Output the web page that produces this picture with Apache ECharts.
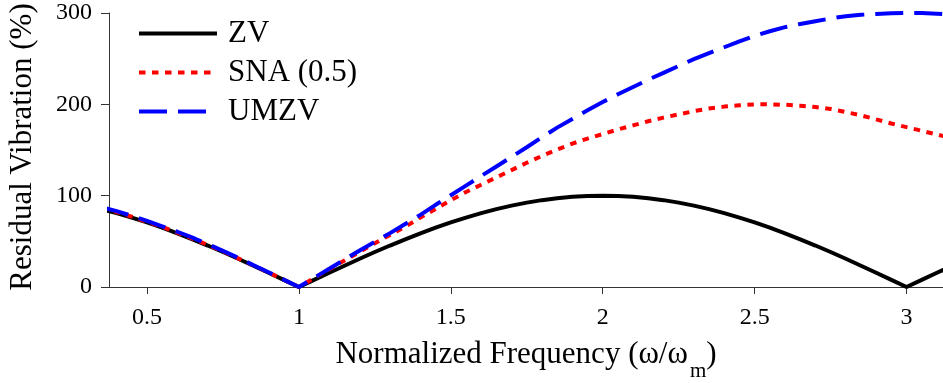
<!DOCTYPE html>
<html>
<head>
<meta charset="utf-8">
<script src="https://cdn.jsdelivr.net/npm/echarts@6.0.0/dist/echarts.min.js"></script>
<style>
  html, body { margin: 0; padding: 0; background: #fff; }
  #root { width: 943px; height: 383px; }
</style>
</head>
<body>
<div id="root"></div>
<script>
// normalized frequency (w / wm)
const freq = [
  0.35, 0.40, 0.45, 0.50, 0.55, 0.60, 0.65, 0.70, 0.75, 0.80, 0.85, 0.90, 0.95, 1.00,
  1.05, 1.10, 1.15, 1.20, 1.25, 1.30, 1.35, 1.40, 1.45, 1.50, 1.55, 1.60, 1.65, 1.70,
  1.75, 1.80, 1.85, 1.90, 1.95, 2.00, 2.05, 2.10, 2.15, 2.20, 2.25, 2.30, 2.35, 2.40,
  2.45, 2.50, 2.55, 2.60, 2.65, 2.70, 2.75, 2.80, 2.85, 2.90, 2.95, 3.00, 3.05, 3.10, 3.15
];

// residual vibration (%)
const zv = [
  85.3, 80.9, 76.0, 70.7, 64.9, 58.8, 52.2, 45.4, 38.3, 30.9, 23.3, 15.6, 7.8, 0,
  7.8, 15.6, 23.3, 30.9, 38.3, 45.4, 52.2, 58.8, 64.9, 70.7, 76.0, 80.9, 85.3, 89.1,
  92.4, 95.1, 97.2, 98.8, 99.7, 100, 99.7, 98.8, 97.2, 95.1, 92.4, 89.1, 85.3, 80.9,
  76.0, 70.7, 64.9, 58.8, 52.2, 45.4, 38.3, 30.9, 23.3, 15.6, 7.8, 0, 7.8, 15.6, 23.3
];
const sna = [
  86.5, 82, 77, 71.5, 65.7, 59.6, 53, 46.2, 39, 31.4, 23.7, 15.9, 8, 0,
  9.8, 19.5, 29, 38.5, 48, 57, 66, 76, 85.5, 95, 104, 112, 120, 128,
  136, 143.5, 150.5, 157, 162.5, 167.5, 172.5, 177, 181.5, 185.5, 189, 192.5, 195.5, 197.5,
  199, 200, 200, 199.5, 198.5, 197, 195, 191.5, 188, 183.5, 179, 175, 171, 167, 163
];
const umzv = [
  87.5, 83, 78, 72.5, 66.5, 60.5, 54, 47, 39.5, 32, 24, 16.2, 8.1, 0,
  10, 20, 30, 40, 49.5, 59, 69, 79, 90, 100.5, 111, 121.5, 132, 142.5,
  153, 164, 174.5, 184, 193.5, 202.5, 211, 219, 227, 234.5, 242, 249.5, 256, 262.5,
  269, 275, 280, 284.5, 288, 291, 294, 296.5, 298, 299, 299.7, 300, 300, 299.3, 298.5
];

const xTicks = [0.5, 1, 1.5, 2, 2.5, 3];
const yTicks = [0, 100, 200, 300];

const FONT = "'Liberation Serif', 'Times New Roman', serif";

const toPairs = ys => freq.map((f, i) => [f, ys[i]]);

const lineSeries = (name, ys, color, type) => ({
  name,
  type: 'line',
  data: toPairs(ys),
  symbol: 'none',
  animation: false,
  lineStyle: { color, width: 4, type, cap: 'butt' },
  itemStyle: { color }
});

const chart = echarts.init(document.getElementById('root'), null, { renderer: 'canvas' });

chart.setOption({
  backgroundColor: '#fff',
  animation: false,
  grid: { left: 109, right: 0, top: 13, bottom: 96, containLabel: false, outerBoundsMode: 'none' },
  legend: {
    orient: 'vertical',
    left: 132,
    top: 13,
    itemWidth: 78,
    itemHeight: 14,
    itemGap: 8,
    // line icons only, hide the marker circle
    itemStyle: { opacity: 0 },
    lineStyle: { width: 4 },
    textStyle: { fontFamily: FONT, fontSize: 31, color: '#000', lineHeight: 31, padding: [0, 0, 0, 6] },
    data: ['ZV', 'SNA (0.5)', 'UMZV']
  },
  xAxis: {
    type: 'value',
    min: 0.375,
    max: 3.12,
    name: '{t|Normalized Frequency (ω/ω}{s|m}{t|)}',
    nameLocation: 'middle',
    nameGap: 40,
    nameTextStyle: {
      fontFamily: FONT,
      fontSize: 31,
      color: '#000',
      rich: {
        t: { fontFamily: FONT, fontSize: 31, color: '#000' },
        s: { fontFamily: FONT, fontSize: 21, color: '#000', padding: [34, 0, 0, 2] }
      }
    },
    axisLine: { show: true, lineStyle: { color: '#333', width: 1 } },
    axisTick: { show: true, length: 7, lineStyle: { color: '#333' }, customValues: xTicks },
    axisLabel: { fontFamily: FONT, fontSize: 24, color: '#000', margin: 19, customValues: xTicks },
    splitLine: { show: false }
  },
  yAxis: {
    type: 'value',
    min: 0,
    max: 300,
    interval: 100,
    name: 'Residual Vibration (%)',
    nameLocation: 'middle',
    nameGap: 71,
    nameTextStyle: { fontFamily: FONT, fontSize: 31, color: '#000', padding: [0, 0, 0, 6] },
    axisLine: { show: true, lineStyle: { color: '#333', width: 1 } },
    axisTick: { show: true, length: 8, lineStyle: { color: '#333' }, customValues: yTicks },
    axisLabel: { fontFamily: FONT, fontSize: 24, color: '#000', margin: 17, customValues: yTicks },
    splitLine: { show: false }
  },
  series: [
    lineSeries('ZV', zv, '#000000', 'solid'),
    lineSeries('SNA (0.5)', sna, '#ff0000', [6.5, 6.5]),
    lineSeries('UMZV', umzv, '#0000ff', [28, 11])
  ]
});
</script>
</body>
</html>
